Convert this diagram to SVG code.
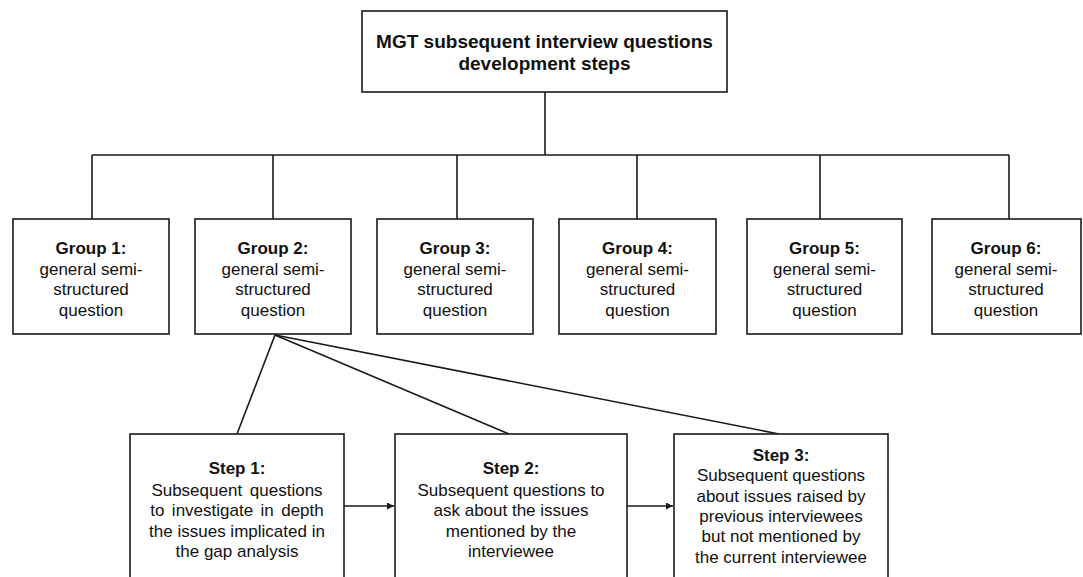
<svg xmlns="http://www.w3.org/2000/svg" width="1083" height="577" viewBox="0 0 1083 577">
  <style>
    .box { fill: #ffffff; stroke: #1a1a1a; stroke-width: 1.6; }
    .wire { fill: none; stroke: #1a1a1a; stroke-width: 1.6; }
    text { font-family: "Liberation Sans", Arial, sans-serif; font-size: 17px; fill: #111111; text-anchor: middle; }
    .b { font-weight: bold; }
    .title { font-size: 19px; font-weight: bold; }
  </style>
  <defs>
    <marker id="arrow" viewBox="0 0 10 10" refX="10" refY="5" markerWidth="8" markerHeight="7" markerUnits="userSpaceOnUse" orient="auto">
      <path d="M0,0 L10,5 L0,10 z" fill="#1a1a1a"/>
    </marker>
  </defs>

  <rect width="1083" height="577" fill="#ffffff"/>

  <!-- connectors -->
  <g id="connectors">
    <path class="wire" d="M545,92 V155"/>
    <path class="wire" d="M92,155 H1009"/>
    <path class="wire" d="M92,155 V219 M273,155 V219 M457,155 V219 M637,155 V219 M820,155 V219 M1009,155 V219"/>
    <path class="wire" d="M275,335 L237,434"/>
    <path class="wire" d="M275,335 L509,434"/>
    <path class="wire" d="M275,335 L779,434"/>
    <path class="wire" d="M344,506 H394" marker-end="url(#arrow)"/>
    <path class="wire" d="M627,506 H673" marker-end="url(#arrow)"/>
  </g>

  <!-- root -->
  <g id="root">
    <rect class="box" x="362" y="11" width="365" height="81"/>
    <text class="title" x="544.5" y="48">MGT subsequent interview questions</text>
    <text class="title" x="544.5" y="70">development steps</text>
  </g>

  <!-- groups -->
  <g id="group1">
    <rect class="box" x="13" y="219" width="156" height="115"/>
    <text x="91" y="253.5"><tspan class="b">Group 1:</tspan><tspan x="91" dy="21">general semi-</tspan><tspan x="91" dy="20.7">structured</tspan><tspan x="91" dy="20.7">question</tspan></text>
  </g>
  <g id="group2">
    <rect class="box" x="195" y="219" width="156" height="115"/>
    <text x="273" y="253.5"><tspan class="b">Group 2:</tspan><tspan x="273" dy="21">general semi-</tspan><tspan x="273" dy="20.7">structured</tspan><tspan x="273" dy="20.7">question</tspan></text>
  </g>
  <g id="group3">
    <rect class="box" x="377" y="219" width="156" height="115"/>
    <text x="455" y="253.5"><tspan class="b">Group 3:</tspan><tspan x="455" dy="21">general semi-</tspan><tspan x="455" dy="20.7">structured</tspan><tspan x="455" dy="20.7">question</tspan></text>
  </g>
  <g id="group4">
    <rect class="box" x="559" y="219" width="157" height="115"/>
    <text x="637.5" y="253.5"><tspan class="b">Group 4:</tspan><tspan x="637.5" dy="21">general semi-</tspan><tspan x="637.5" dy="20.7">structured</tspan><tspan x="637.5" dy="20.7">question</tspan></text>
  </g>
  <g id="group5">
    <rect class="box" x="747" y="219" width="155" height="115"/>
    <text x="824.5" y="253.5"><tspan class="b">Group 5:</tspan><tspan x="824.5" dy="21">general semi-</tspan><tspan x="824.5" dy="20.7">structured</tspan><tspan x="824.5" dy="20.7">question</tspan></text>
  </g>
  <g id="group6">
    <rect class="box" x="932" y="219" width="149" height="115"/>
    <text x="1006" y="253.5"><tspan class="b">Group 6:</tspan><tspan x="1006" dy="21">general semi-</tspan><tspan x="1006" dy="20.7">structured</tspan><tspan x="1006" dy="20.7">question</tspan></text>
  </g>

  <!-- steps -->
  <g id="step1">
    <rect class="box" x="130" y="434" width="214" height="160"/>
    <text x="237" y="474"><tspan class="b">Step 1:</tspan><tspan x="237" dy="21.5" word-spacing="3">Subsequent questions</tspan><tspan x="237" dy="20.5" word-spacing="2.7">to investigate in depth</tspan><tspan x="237" dy="20.5">the issues implicated in</tspan><tspan x="237" dy="20.5">the gap analysis</tspan></text>
  </g>
  <g id="step2">
    <rect class="box" x="395" y="434" width="232" height="160"/>
    <text x="511" y="474"><tspan class="b">Step 2:</tspan><tspan x="511" dy="21.5">Subsequent questions to</tspan><tspan x="511" dy="20.5">ask about the issues</tspan><tspan x="511" dy="20.5">mentioned by the</tspan><tspan x="511" dy="20.5">interviewee</tspan></text>
  </g>
  <g id="step3">
    <rect class="box" x="674" y="434" width="214" height="160"/>
    <text x="781" y="461"><tspan class="b">Step 3:</tspan><tspan x="781" dy="20.4">Subsequent questions</tspan><tspan x="781" dy="20.3">about issues raised by</tspan><tspan x="781" dy="20.3">previous interviewees</tspan><tspan x="781" dy="20.3">but not mentioned by</tspan><tspan x="781" dy="20.3">the current interviewee</tspan></text>
  </g>
</svg>
